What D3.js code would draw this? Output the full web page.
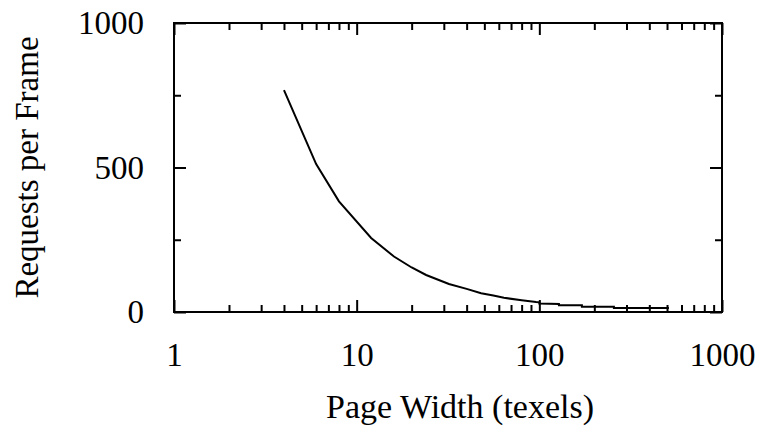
<!DOCTYPE html>
<html>
<head>
<meta charset="utf-8">
<script src="https://cdn.jsdelivr.net/npm/d3@7"></script>
<style>
  body { margin: 0; background: #fff; }
  svg { display: block; }
  text { font-family: "Liberation Serif", "Times New Roman", serif; fill: #000; }
</style>
</head>
<body>
<svg id="chart" width="760" height="428"></svg>
<script>
// Page width (texels) vs requests per frame
const pageWidths = [4, 6, 8, 12, 16, 20, 24, 32, 40, 48, 56, 64, 80, 96, 100, 100, 128, 128, 171, 171, 256, 256, 512];
const requests   = [768, 512, 383, 256, 192, 154, 128, 97, 80, 65, 57, 49, 41, 35, 34, 29, 28, 23, 23, 18.5, 18.5, 14, 14];

const xMajor = [1, 10, 100, 1000];
const xMinor = [2, 3, 4, 5, 6, 7, 8, 9, 20, 30, 40, 50, 60, 70, 80, 90, 200, 300, 400, 500, 600, 700, 800, 900];
const yMajor = [0, 500, 1000];
const yMinor = [250, 750];

const margin = { left: 174, right: 38, top: 23, bottom: 116 };
const width = 760, height = 428;
const svg = d3.select('#chart');

const x = d3.scaleLog().domain([1, 1000]).range([margin.left, width - margin.right]);
const y = d3.scaleLinear().domain([0, 1000]).range([height - margin.bottom, margin.top]);

const fontSize = 33;
const majorLen = 12;
const minorLen = 7;

function styleAxis(g) {
  g.select('.domain').remove();
  g.selectAll('line').attr('stroke', '#000').attr('stroke-width', 2);
  g.selectAll('text').attr('font-size', fontSize).attr('font-family', '"Liberation Serif", serif');
}

// bottom
svg.append('g')
  .attr('transform', `translate(0,${y(0)})`)
  .call(d3.axisBottom(x).tickValues(xMajor).tickSize(-majorLen).tickPadding(31).tickFormat(d3.format('d')))
  .call(styleAxis);
svg.append('g')
  .attr('transform', `translate(0,${y(0)})`)
  .call(d3.axisBottom(x).tickValues(xMinor).tickSize(-minorLen).tickFormat(''))
  .call(styleAxis);
// top
svg.append('g')
  .attr('transform', `translate(0,${y(1000)})`)
  .call(d3.axisTop(x).tickValues(xMajor).tickSize(-majorLen).tickFormat(''))
  .call(styleAxis);
svg.append('g')
  .attr('transform', `translate(0,${y(1000)})`)
  .call(d3.axisTop(x).tickValues(xMinor).tickSize(-minorLen).tickFormat(''))
  .call(styleAxis);
// left
svg.append('g')
  .attr('transform', `translate(${x(1)},0)`)
  .call(d3.axisLeft(y).tickValues(yMajor).tickSize(-majorLen).tickPadding(30).tickFormat(d3.format('d')))
  .call(styleAxis);
svg.append('g')
  .attr('transform', `translate(${x(1)},0)`)
  .call(d3.axisLeft(y).tickValues(yMinor).tickSize(-minorLen).tickFormat(''))
  .call(styleAxis);
// right
svg.append('g')
  .attr('transform', `translate(${x(1000)},0)`)
  .call(d3.axisRight(y).tickValues(yMajor).tickSize(-majorLen).tickFormat(''))
  .call(styleAxis);
svg.append('g')
  .attr('transform', `translate(${x(1000)},0)`)
  .call(d3.axisRight(y).tickValues(yMinor).tickSize(-minorLen).tickFormat(''))
  .call(styleAxis);

// frame
svg.append('rect')
  .attr('x', x(1))
  .attr('y', y(1000))
  .attr('width', x(1000) - x(1))
  .attr('height', y(0) - y(1000))
  .attr('fill', 'none')
  .attr('stroke', '#000')
  .attr('stroke-width', 2);

// curve
const line = d3.line()
  .x((d, i) => x(pageWidths[i]))
  .y(d => y(d));

svg.append('path')
  .datum(requests)
  .attr('d', line)
  .attr('fill', 'none')
  .attr('stroke', '#000')
  .attr('stroke-width', 2);

// axis titles
svg.append('text')
  .attr('x', (x(1) + x(1000)) / 2 + 12)
  .attr('y', 418)
  .attr('text-anchor', 'middle')
  .attr('font-size', 34)
  .text('Page Width (texels)');

svg.append('text')
  .attr('transform', `translate(38,${(y(0) + y(1000)) / 2}) rotate(-90)`)
  .attr('text-anchor', 'middle')
  .attr('font-size', 33)
  .text('Requests per Frame');
</script>
</body>
</html>
